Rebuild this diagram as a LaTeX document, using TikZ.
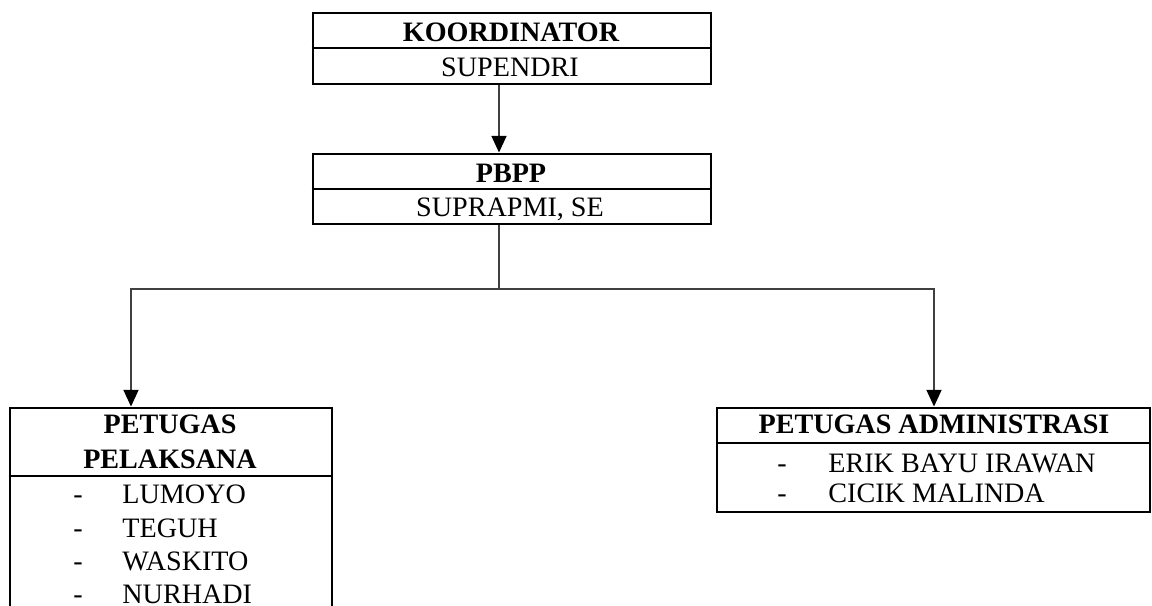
\documentclass[tikz,border=0pt]{standalone}
\usepackage{fontspec}
\setmainfont{Liberation Serif}
\usetikzlibrary{arrows.meta,fit}
\begin{document}
\begin{tikzpicture}[x=0.48pt,y=-0.48pt,
  box/.style={draw=black,line width=1.4pt,inner sep=0pt},
  divider/.style={draw=black,line width=1.4pt},
  conn/.style={draw=black!75,line width=0.75pt},
  arr/.style={conn,-{Triangle[width=7.2pt,length=8pt,black]}},
  txt/.style={anchor=base,inner sep=0pt,font=\fontsize{13.5pt}{16pt}\selectfont},
  btxt/.style={txt,font=\fontsize{13.5pt}{16pt}\selectfont\bfseries},
  ltxt/.style={txt,anchor=base west}]
\useasboundingbox (0,0) rectangle (1152,606);
\clip (0,0) rectangle (1152,606);
\fill[white] (0,0) rectangle (1152,606);

% boxes
\node[box,fit={(313,13) (711,84)}] (koor) {};
\node[box,fit={(313,154) (711,224)}] (pbpp) {};
\node[box,fit={(10,408) (332,660)}] (pel) {};
\node[box,fit={(717,408) (1150,512)}] (adm) {};

% dividers
\draw[divider] (koor.west |- 0,48) -- (koor.east |- 0,48);
\draw[divider] (pbpp.west |- 0,189) -- (pbpp.east |- 0,189);
\draw[divider] (pel.west |- 0,476) -- (pel.east |- 0,476);
\draw[divider] (adm.west |- 0,443) -- (adm.east |- 0,443);

% texts
\node[btxt] (t1) at (511,42) {KOORDINATOR};
\node[txt] (t2) at (510,77) {SUPENDRI};
\node[btxt] (t3) at (511,182) {PBPP};
\node[txt] (t4) at (510,217) {SUPRAPMI, SE};

\node[btxt] (t5) at (170,433) {PETUGAS};
\node[btxt] (t6) at (170,468) {PELAKSANA};
\node[txt] (d1) at (78,503) {-};
\node[txt] (d2) at (78,537) {-};
\node[txt] (d3) at (78,570) {-};
\node[txt] (d4) at (78,603) {-};
\node[ltxt] (n1) at (122,503) {LUMOYO};
\node[ltxt] (n2) at (122,537) {TEGUH};
\node[ltxt] (n3) at (122,570) {WASKITO};
\node[ltxt] (n4) at (122,603) {NURHADI};

\node[btxt] (t7) at (934,433) {PETUGAS ADMINISTRASI};
\node[txt] (d5) at (782,472) {-};
\node[txt] (d6) at (782,502) {-};
\node[ltxt] (n5) at (828,472) {ERIK BAYU IRAWAN};
\node[ltxt] (n6) at (828,502) {CICIK MALINDA};

% connectors
\coordinate (mx) at (499,0);
\coordinate (split) at (499,289);
\coordinate (lx) at (131,0);
\coordinate (rx) at (934,0);
\draw[arr] (koor.south -| mx) -- (pbpp.north -| mx);
\draw[conn] (pbpp.south -| mx) -- (split);
\draw[arr] (split) -| (pel.north -| lx);
\draw[arr] (split) -| (adm.north -| rx);
\end{tikzpicture}
\end{document}
